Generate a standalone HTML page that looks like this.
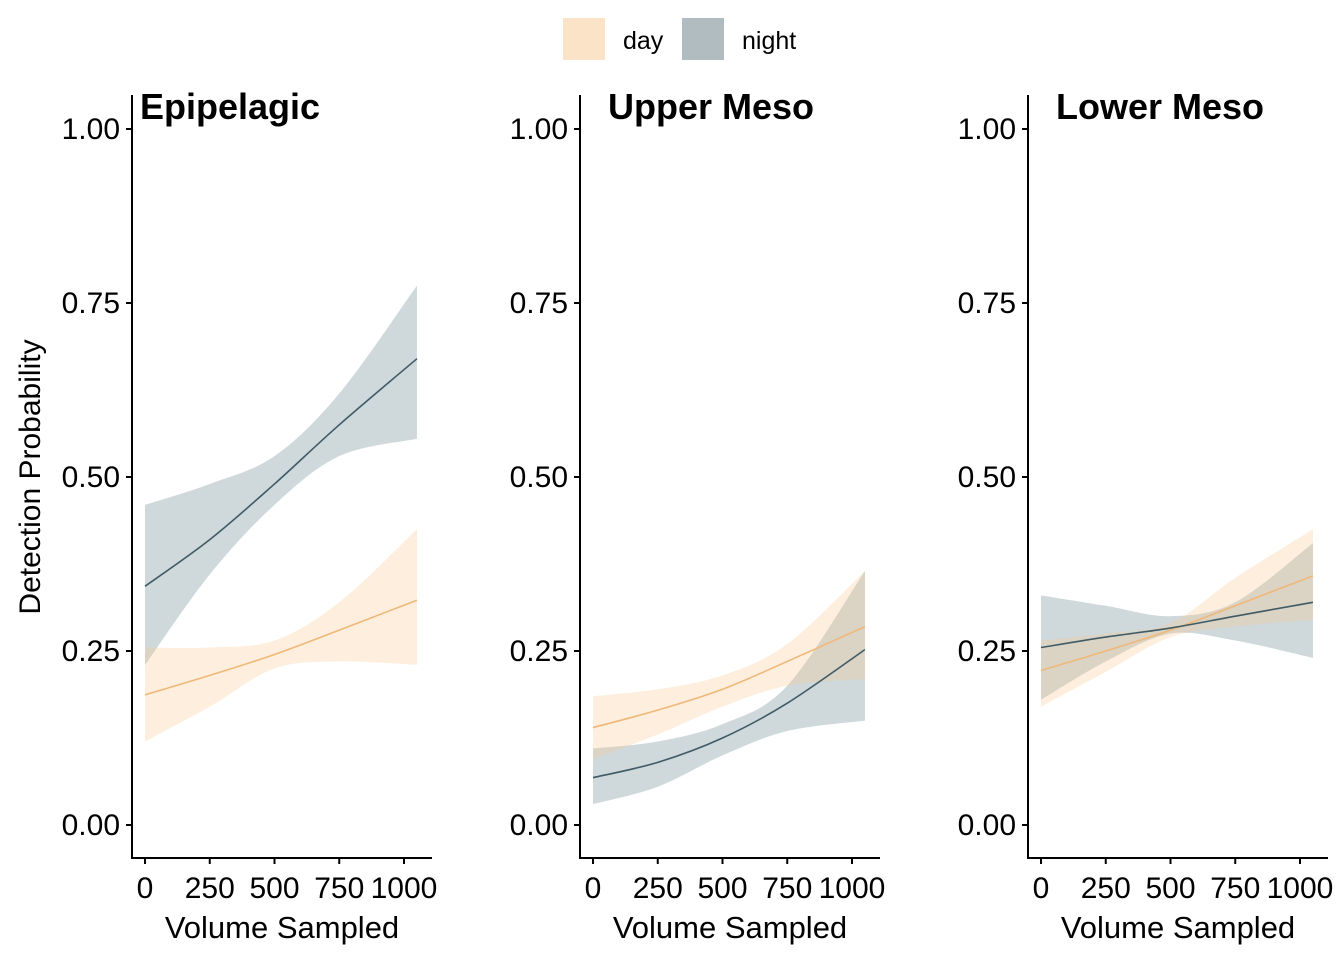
<!DOCTYPE html>
<html><head><meta charset="utf-8"><style>
body{margin:0;background:#fff;width:1344px;height:960px;overflow:hidden;font-family:"Liberation Sans",Arial,sans-serif}
</style></head><body>
<svg id="chart" width="1344" height="960" xmlns="http://www.w3.org/2000/svg" font-family="Liberation Sans, Arial, sans-serif"></svg>
<script>
const xs=[0,250,500,750,1050];
const panelTitles=["Epipelagic","Upper Meso","Lower Meso"];
const xTicks=[0,250,500,750,1000];
const yTicks=[0,0.25,0.5,0.75,1];
const yTickLabels=["0.00","0.25","0.50","0.75","1.00"];
const dayFit=[[0.187,0.215,0.245,0.28,0.323],[0.14,0.165,0.195,0.235,0.285],[0.222,0.25,0.28,0.315,0.358]];
const dayUpper=[[0.255,0.255,0.265,0.32,0.425],[0.185,0.195,0.215,0.26,0.365],[0.265,0.275,0.29,0.355,0.425]];
const dayLower=[[0.12,0.17,0.225,0.235,0.23],[0.095,0.13,0.17,0.2,0.21],[0.17,0.22,0.27,0.285,0.295]];
const nightFit=[[0.343,0.41,0.49,0.575,0.67],[0.068,0.09,0.125,0.175,0.252],[0.255,0.27,0.283,0.3,0.32]];
const nightUpper=[[0.46,0.49,0.53,0.62,0.775],[0.11,0.12,0.145,0.2,0.365],[0.33,0.315,0.3,0.32,0.405]];
const nightLower=[[0.23,0.36,0.46,0.53,0.555],[0.03,0.055,0.1,0.135,0.15],[0.18,0.235,0.275,0.265,0.24]];

const svg=document.getElementById('chart');
const NS='http://www.w3.org/2000/svg';
function mk(tag,attrs,parent){const e=document.createElementNS(NS,tag);for(const k in attrs)e.setAttribute(k,attrs[k]);(parent||svg).appendChild(e);return e;}
const axisX=[132,580,1028];
const y=v=>825-v*696;
function smooth(pts){let d='M'+pts[0][0]+','+pts[0][1];for(let i=0;i<pts.length-1;i++){const p0=pts[i-1]||pts[i],p1=pts[i],p2=pts[i+1],p3=pts[i+2]||p2;
d+=' C'+(p1[0]+(p2[0]-p0[0])/6)+','+(p1[1]+(p2[1]-p0[1])/6)+' '+(p2[0]-(p3[0]-p1[0])/6)+','+(p2[1]-(p3[1]-p1[1])/6)+' '+p2[0]+','+p2[1];}return d;}
function smoothBack(pts){const r=pts.slice().reverse();return smooth(r).replace(/^M/,' L');}

let lg=mk('g',{});
let r1=mk('rect',{x:563,y:18,width:42,height:42,fill:'#fbe3c8'},lg);
let t1=mk('text',{x:623,y:49,'font-size':25,fill:'#000'},lg);t1.textContent='day';
let r2=mk('rect',{x:682,y:18,width:42,height:42,fill:'#b0bcc0'},lg);
let t2=mk('text',{x:742,y:49,'font-size':25,fill:'#000'},lg);t2.textContent='night';

let yt=mk('text',{x:40,y:477,'font-size':30,'text-anchor':'middle',transform:'rotate(-90 40 477)'});yt.textContent='Detection Probability';


for(let p=0;p<3;p++){
 const ax=axisX[p];const x=v=>ax+13+v*0.259;
 const g=mk('g',{});
 function band(up,lo,fill,op,name){const pu=xs.map((v,i)=>[x(v),y(up[i])]),pl=xs.map((v,i)=>[x(v),y(lo[i])]);
  const e=mk('path',{d:smooth(pu)+smoothBack(pl)+' Z',fill:fill,'fill-opacity':op},g);}
 function line(f,col,name){const e=mk('path',{d:smooth(xs.map((v,i)=>[x(v),y(f[i])])),fill:'none',stroke:col,'stroke-width':1.6},g);}
 band(nightUpper[p],nightLower[p],'#8199a1',0.38,'night-ci-band');
 band(dayUpper[p],dayLower[p],'#f9c68e',0.3,'day-ci-band');
 line(dayFit[p],'#f0b878','day-fit-line');
 line(nightFit[p],'#3f5b66','night-fit-line');
 let a1=mk('line',{x1:ax,y1:95,x2:ax,y2:858,stroke:'#000','stroke-width':2},g);
 let a2=mk('line',{x1:ax-1,y1:858,x2:ax+300,y2:858,stroke:'#000','stroke-width':2},g);
 yTicks.forEach((v,i)=>{mk('line',{x1:ax-6,x2:ax,y1:y(v),y2:y(v),stroke:'#000','stroke-width':2},g);
  const t=mk('text',{x:ax-12,y:y(v)+10,'font-size':30,'text-anchor':'end'},g);t.textContent=yTickLabels[i];
  });
 xTicks.forEach(v=>{mk('line',{x1:x(v),x2:x(v),y1:858,y2:864,stroke:'#000','stroke-width':2},g);
  const t=mk('text',{x:x(v),y:898,'font-size':30,'text-anchor':'middle'},g);t.textContent=v;
  });
 const xt=mk('text',{x:ax+150,y:938,'font-size':31,'text-anchor':'middle'},g);xt.textContent='Volume Sampled';
 
 const tt=mk('text',{x:ax+(p==0?8:28),y:119,'font-size':36,'font-weight':'bold'},g);tt.textContent=panelTitles[p];
 
}
</script>
</body></html>
